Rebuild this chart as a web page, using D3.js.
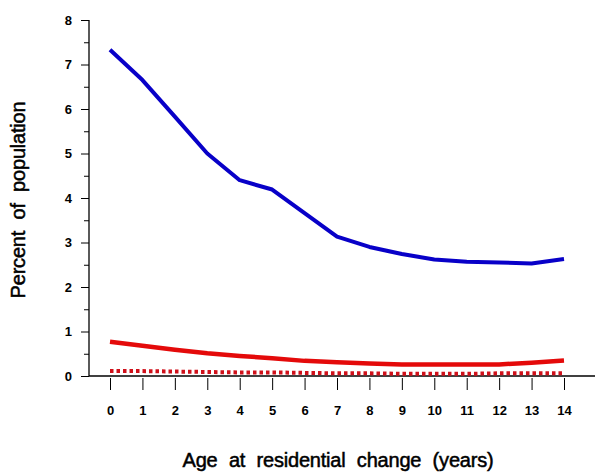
<!DOCTYPE html>
<html>
<head>
<meta charset="utf-8">
<script src="https://cdn.jsdelivr.net/npm/d3@7"></script>
<style>
  html, body { margin: 0; padding: 0; background: #fff; }
  svg { display: block; }
</style>
</head>
<body>
<svg id="chart" width="595" height="474"></svg>
<script>
// ---- data ----
const ages = [0,1,2,3,4,5,6,7,8,9,10,11,12,13,14];
const blueSeries = [7.33,6.65,5.83,5.00,4.40,4.19,3.66,3.13,2.90,2.74,2.62,2.57,2.55,2.53,2.63];
const redSeries  = [0.77,0.68,0.59,0.51,0.45,0.40,0.34,0.31,0.28,0.26,0.26,0.26,0.26,0.30,0.35];
const redDotted  = [0.11,0.11,0.10,0.09,0.08,0.08,0.07,0.06,0.06,0.05,0.05,0.05,0.06,0.06,0.06];
const yMajorTicks = [0,1,2,3,4,5,6,7,8];
const yMinorTicks = [0.5,1.5,2.5,3.5,4.5,5.5,6.5,7.5];
const xTitle = "Age at residential change (years)";
const yTitle = "Percent of population";

// ---- layout ----
const svg = d3.select("#chart");
const axisX = 89, axisY = 376;
const x = d3.scaleLinear().domain([0,14]).range([110,564]);
const y = d3.scaleLinear().domain([0,8]).range([376,20]);
const FONT = "'Liberation Sans', Arial, Helvetica, sans-serif";

// y axis
const yAxis = d3.axisLeft(y).tickValues(yMajorTicks).tickSize(8).tickPadding(9)
  .tickFormat(d3.format("d"));
const gy = svg.append("g").attr("transform", `translate(${axisX},0)`).call(yAxis);
gy.select(".domain").remove();
gy.selectAll(".tick line").attr("stroke","#000");
gy.selectAll(".tick text").attr("font-family",FONT)
  .attr("font-weight","bold").attr("font-size","13px").attr("fill","#000");
svg.append("line").attr("x1",axisX).attr("x2",axisX).attr("y1",y(8)).attr("y2",y(0))
  .attr("stroke","#000").attr("stroke-width",1.3);
const yMinor = d3.axisLeft(y).tickValues(yMinorTicks).tickSize(5).tickFormat("");
const gym = svg.append("g").attr("transform", `translate(${axisX},0)`).call(yMinor);
gym.select(".domain").remove();
gym.selectAll(".tick line").attr("stroke","#000");

// x baseline
svg.append("line").attr("x1",axisX).attr("x2",595).attr("y1",axisY).attr("y2",axisY)
  .attr("stroke","#000").attr("stroke-width",1.3);

// x axis ticks (offset below baseline)
const xAxis = d3.axisBottom(x).tickValues(ages).tickSize(12).tickPadding(16)
  .tickFormat(d3.format("d"));
const gx = svg.append("g").attr("transform", `translate(0,${axisY+2})`).call(xAxis);
gx.select(".domain").remove();
gx.selectAll(".tick line").attr("stroke","#000");
gx.selectAll(".tick text").attr("font-family",FONT)
  .attr("font-weight","bold").attr("font-size","13px").attr("fill","#000");

// lines
const line = d3.line().x((d,i)=>x(ages[i])).y(d=>y(d)).curve(d3.curveLinear);
svg.append("path").datum(blueSeries).attr("d",line).attr("fill","none")
  .attr("stroke","#0800c8").attr("stroke-width",4).attr("stroke-linejoin","round");
svg.append("path").datum(redSeries).attr("d",line).attr("fill","none")
  .attr("stroke","#e40a0a").attr("stroke-width",4.5).attr("stroke-linejoin","round");
svg.append("path").datum(redDotted).attr("d",line).attr("fill","none")
  .attr("stroke","#d0101a").attr("stroke-width",4).attr("stroke-dasharray","3.5,3");

// titles
svg.append("text").attr("x",338).attr("y",467).attr("text-anchor","middle")
  .attr("font-family",FONT).attr("font-size","20px")
  .attr("word-spacing","6px").attr("letter-spacing","-0.2px")
  .attr("fill","#000").attr("stroke","#000").attr("stroke-width",0.5).text(xTitle);
svg.append("text").attr("transform","translate(25,200) rotate(-90)").attr("text-anchor","middle")
  .attr("font-family",FONT).attr("font-size","20px")
  .attr("word-spacing","6px").attr("letter-spacing","-0.2px")
  .attr("fill","#000").attr("stroke","#000").attr("stroke-width",0.5).text(yTitle);
</script>
</body>
</html>
